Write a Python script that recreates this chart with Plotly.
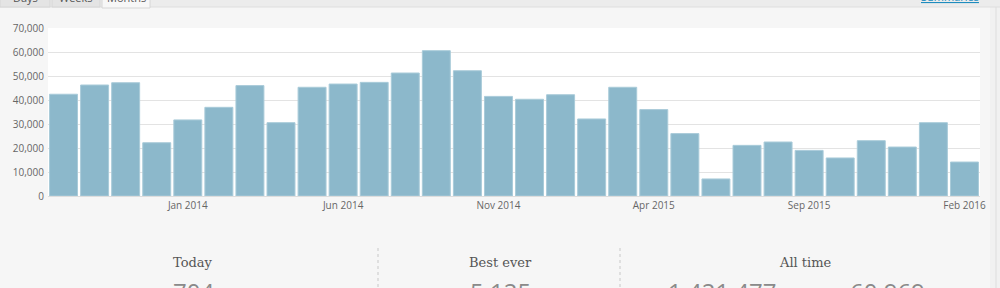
import plotly.graph_objects as go

months = ["Sep 2013", "Oct 2013", "Nov 2013", "Dec 2013", "Jan 2014", "Feb 2014", "Mar 2014",
          "Apr 2014", "May 2014", "Jun 2014", "Jul 2014", "Aug 2014", "Sep 2014", "Oct 2014",
          "Nov 2014", "Dec 2014", "Jan 2015", "Feb 2015", "Mar 2015", "Apr 2015", "May 2015",
          "Jun 2015", "Jul 2015", "Aug 2015", "Sep 2015", "Oct 2015", "Nov 2015", "Dec 2015",
          "Jan 2016", "Feb 2016"]
views = [42400, 46250, 47200, 22200, 31700, 36950, 46000, 30550, 45300, 46650,
         47350, 51250, 60550, 52200, 41500, 40300, 42200, 32100, 45300, 36000,
         26000, 7100, 21100, 22500, 19000, 15850, 23050, 20400, 30550, 14150]
tick_labels = ["Jan 2014", "Jun 2014", "Nov 2014", "Apr 2015", "Sep 2015", "Feb 2016"]
y_ticks = [0, 10000, 20000, 30000, 40000, 50000, 60000, 70000]

stat_titles = ["Today", "Best ever", "All time"]
stat_title_x = [193, 500, 805]
stat_values = ["704", "5,125", "1,421,477", "60,969"]
stat_value_x = [193, 500, 722, 887]
tabs = ["Days", "Weeks", "Months"]

fig = go.Figure(go.Bar(
    x=months, y=views,
    marker=dict(color="#8cb8cb", line=dict(color="#a9cbd9", width=1)),
    hoverinfo="x+y",
))

W, H = 1000, 288
L, R, T, B = 48, 980, 28, 196

def px(x):
    return (x - L) / (R - L)

def py(y):
    return (B - y) / (B - T)

shapes = []
# top tab strip
shapes.append(dict(type="rect", xref="paper", yref="paper", x0=px(-5), x1=px(1005), y0=py(7), y1=py(-5),
                   fillcolor="#ececec", line=dict(width=0), layer="below"))
shapes.append(dict(type="line", xref="paper", yref="paper", x0=px(0), x1=px(1000), y0=py(7), y1=py(7),
                   line=dict(color="#dedede", width=1)))
tab_x = [(0, 50), (52, 100), (102, 150)]
for i, (a, b) in enumerate(tab_x):
    shapes.append(dict(type="rect", xref="paper", yref="paper", x0=px(a), x1=px(b), y0=py(7 if i < 2 else 8), y1=py(-5),
                       fillcolor="#e4e4e4" if i < 2 else "#f7f7f7", line=dict(color="#d6d6d6", width=1)))
# right strip
shapes.append(dict(type="rect", xref="paper", yref="paper", x0=px(990), x1=px(1005), y0=py(295), y1=py(7),
                   fillcolor="#f1f1f1", line=dict(width=0), layer="below"))
shapes.append(dict(type="line", xref="paper", yref="paper", x0=px(996), x1=px(996), y0=py(295), y1=py(7),
                   line=dict(color="#dddddd", width=1)))
# separators
for sx in [378, 620]:
    shapes.append(dict(type="line", xref="paper", yref="paper", x0=px(sx), x1=px(sx), y0=py(248), y1=py(295),
                       line=dict(color="#c8c8c8", width=1, dash="dot")))

annotations = []
for t, (a, b) in zip(tabs, tab_x):
    annotations.append(dict(text=t, xref="paper", yref="paper", x=px((a + b) / 2), y=py(-2),
                            xanchor="center", yanchor="middle", showarrow=False,
                            font=dict(family="Open Sans", size=11, color="#555")))
annotations.append(dict(text="<u>Summaries</u>", xref="paper", yref="paper", x=px(950), y=py(-4),
                        xanchor="center", yanchor="middle", showarrow=False,
                        font=dict(family="Open Sans", size=11, color="#1e8cbe")))
for t, x in zip(stat_titles, stat_title_x):
    annotations.append(dict(text=t, xref="paper", yref="paper", x=px(x), y=py(262),
                            xanchor="center", yanchor="middle", showarrow=False,
                            font=dict(family="DejaVu Serif", size=13, color="#555")))
for t, x in zip(stat_values, stat_value_x):
    annotations.append(dict(text=t, xref="paper", yref="paper", x=px(x), y=py(291),
                            xanchor="center", yanchor="middle", showarrow=False,
                            font=dict(family="Open Sans", size=24, color="#8a8a8a")))

fig.update_layout(
    width=W, height=H,
    margin=dict(l=L, r=W - R, t=T, b=H - B),
    paper_bgcolor="#f6f6f6",
    plot_bgcolor="#ffffff",
    bargap=0.1,
    showlegend=False,
    shapes=shapes,
    annotations=annotations,
    xaxis=dict(
        type="category", range=[-0.5, 29.5],
        tickmode="array", tickvals=tick_labels, ticktext=tick_labels,
        showgrid=False, ticks="", showline=True, linecolor="#dddddd", linewidth=1,
        tickfont=dict(family="Open Sans", size=10, color="#666"),
        fixedrange=True,
    ),
    yaxis=dict(
        range=[0, 70000], tickvals=y_ticks, tickformat=",d",
        gridcolor="#e3e3e3", gridwidth=1, zeroline=False, ticks="",
        tickfont=dict(family="Open Sans", size=10, color="#666"),
        ticklabelstandoff=3,
        fixedrange=True,
    ),
    font=dict(family="Open Sans"),
)

fig.write_html("out.html")
